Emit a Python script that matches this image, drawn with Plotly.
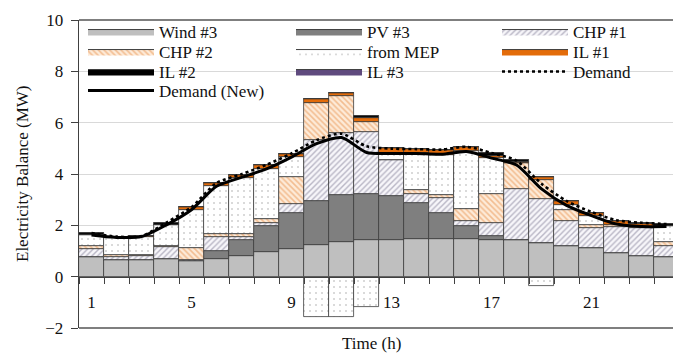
import plotly.graph_objects as go

hours = list(range(1, 25))
tick_hours = [1, 5, 9, 13, 17, 21]

wind = [0.78, 0.64, 0.65, 0.70, 0.60, 0.70, 0.82, 0.95, 1.08, 1.22, 1.34, 1.41,
        1.44, 1.47, 1.47, 1.47, 1.44, 1.42, 1.30, 1.21, 1.12, 0.91, 0.82, 0.78]
pv = [0, 0, 0, 0, 0, 0.30, 0.60, 1.02, 1.40, 1.71, 1.85, 1.82,
      1.71, 1.40, 1.03, 0.51, 0.13, 0, 0, 0, 0, 0, 0, 0]
chp1 = [0.30, 0.12, 0.15, 0.44, 0.04, 0.55, 0.13, 0.13, 0.36, 2.39, 2.40, 2.42,
        1.40, 0.36, 0.56, 0.20, 0.54, 1.99, 1.72, 0.97, 0.78, 1.04, 1.08, 0.40]
chp2 = [0.13, 0.10, 0.06, 0.05, 0.47, 0.13, 0.13, 0.14, 1.06, 1.43, 1.43, 0.39,
        0, 0.13, 0.13, 0.45, 1.12, 1.00, 0.74, 0.42, 0.12, 0.08, 0.05, 0.16]
mep = [0.40, 0.66, 0.70, 0.83, 1.50, 1.84, 2.18, 1.95, 0.76, -1.56, -1.56, -1.17,
       0.28, 1.45, 1.56, 2.25, 1.39, 0, -0.35, 0.20, 0.35, -0.05, -0.05, 0.62]
il1 = [0, 0.03, 0.02, 0, 0.10, 0.13, 0.12, 0.16, 0.13, 0.16, 0.13, 0.14,
       0.17, 0.16, 0.19, 0.18, 0.09, 0.07, 0.13, 0.16, 0.13, 0.12, 0.10, 0]
il2 = [0.09, 0, 0, 0.09, 0, 0, 0, 0, 0, 0, 0, 0.08,
       0, 0, 0, 0, 0.10, 0.06, 0, 0, 0, 0, 0.06, 0.10]
il3 = [0, 0, 0, 0, 0, 0, 0, 0, 0, 0, 0, 0,
       0, 0, 0, 0, 0, 0, 0, 0, 0, 0, 0, 0]
demand = [1.70, 1.56, 1.58, 2.11, 2.71, 3.65, 3.99, 4.36, 4.80, 5.32, 5.57, 5.08,
          4.99, 4.97, 4.95, 5.06, 4.82, 4.52, 3.62, 2.95, 2.52, 2.20, 2.10, 2.05]
demand_new = [1.62, 1.53, 1.56, 2.02, 2.61, 3.52, 3.87, 4.20, 4.66, 5.18, 5.42, 4.84,
              4.80, 4.80, 4.77, 4.88, 4.62, 4.35, 3.42, 2.78, 2.38, 2.05, 1.95, 1.95]

FONT = "Liberation Serif"
EDGE = "#3c3c3c"
TXT = "#111111"
NBSP = "\u00a0"

series = [
    ("Wind #3", wind, dict(color="#bfbfbf")),
    ("PV #3", pv, dict(color="#7f7f7f")),
    ("CHP #1", chp1, dict(color="#f7f6fa", pattern=dict(shape="/", fgcolor="#7a7590", bgcolor="#f7f6fa", size=4, solidity=0.35))),
    ("CHP #2", chp2, dict(color="#fde9d6", pattern=dict(shape="\\", fgcolor="#e8904a", bgcolor="#fdebd9", size=4, solidity=0.4))),
    ("from MEP", mep, dict(color="white", pattern=dict(shape=".", fgcolor="#444444", bgcolor="white", size=6, solidity=0.05))),
    ("IL #1", il1, dict(color="#e36c0a")),
    ("IL #2", il2, dict(color="#000000")),
    ("IL #3", il3, dict(color="#5f4a7e")),
]

fig = go.Figure()
for name, vals, mk in series:
    m = dict(mk)
    m["line"] = dict(color=EDGE, width=0.8)
    fig.add_trace(go.Bar(x=hours, y=vals, name=name, marker=m, width=1.0,
                         showlegend=False))

fig.add_trace(go.Scatter(x=hours, y=demand, mode="lines", name="Demand",
                         line=dict(color="black", width=2.6, dash="dot", shape="spline", smoothing=0.7),
                         showlegend=False))
fig.add_trace(go.Scatter(x=hours, y=demand_new, mode="lines", name="Demand (New)",
                         line=dict(color="black", width=3, shape="spline", smoothing=0.7),
                         showlegend=False))

# plot-area geometry in pixels
L, T, PW, PH = 79, 20, 594, 308
def px2paper(x, y):
    return (x - L) / PW, (T + PH - y) / PH

legend_items = [
    ("Wind #3", 83, 32), ("PV #3", 291, 32), ("CHP #1", 497, 32),
    ("CHP #2", 83, 52), ("from MEP", 291, 52), ("IL #1", 497, 52),
    ("IL #2", 83, 72), ("IL #3", 291, 72), ("Demand", 497, 72),
    ("Demand (New)", 83, 91),
]
style_of = {name: mk for name, _, mk in series}
legend_layouts = {}
for i, (name, px, py) in enumerate(legend_items):
    key = "legend" if i == 0 else "legend%d" % (i + 1)
    lx, ly = px2paper(px, py)
    legend_layouts[key] = dict(x=lx, y=ly, xanchor="left", yanchor="middle",
                               bgcolor="rgba(0,0,0,0)", borderwidth=0, itemwidth=66,
                               font=dict(family=FONT, size=17, color=TXT),
                               itemclick=False, itemdoubleclick=False)
    if name in style_of:
        mk = style_of[name]
        kw = dict(fill="toself", fillcolor=mk["color"], line=dict(color=EDGE, width=1))
        if "pattern" in mk:
            kw["fillpattern"] = mk["pattern"]
        fig.add_trace(go.Scatter(x=[None], y=[None], mode="lines", name=name,
                                 legend=key, showlegend=True, **kw))
    elif name == "Demand":
        fig.add_trace(go.Scatter(x=[None], y=[None], mode="lines", name=name, legend=key,
                                 line=dict(color="black", width=2.6, dash="dot")))
    else:
        fig.add_trace(go.Scatter(x=[None], y=[None], mode="lines", name=name, legend=key,
                                 line=dict(color="black", width=3)))

fig.update_layout(
    width=673, height=358,
    margin=dict(l=L, r=0, t=T, b=358 - T - PH),
    barmode="relative", bargap=0,
    plot_bgcolor="white", paper_bgcolor="white",
    font=dict(family=FONT, size=17, color=TXT),
    xaxis=dict(range=[0.5, 24.26], anchor="free", position=1/6,
               tickmode="array", tickvals=tick_hours, ticktext=[str(t) for t in tick_hours],
               ticks="", showgrid=False, zeroline=False,
               showline=True, linecolor="#404040", linewidth=1,
               ticklabelstandoff=10,
               tickfont=dict(family=FONT, size=17, color=TXT),
               minor=dict(tick0=0.5, dtick=1, ticks="outside", ticklen=6,
                          tickcolor="#404040", tickwidth=1, showgrid=False)),
    yaxis=dict(range=[-2, 10], dtick=2, ticks="outside", ticklen=7, tickcolor="#404040",
               showgrid=True, gridcolor="#d9d9d9", gridwidth=1, zeroline=False,
               showline=True, linecolor="#404040", linewidth=1,
               ticksuffix=NBSP, separatethousands=False,
               tickfont=dict(family=FONT, size=17, color=TXT)),
    annotations=[
        dict(text="Electricity Balance (MW)", textangle=-90, x=px2paper(22, 0)[0], y=0.5,
             xref="paper", yref="paper", showarrow=False, xanchor="center", yanchor="middle",
             font=dict(family=FONT, size=17, color=TXT)),
        dict(text="Time (h)", x=px2paper(371, 0)[0], y=px2paper(0, 343)[1],
             xref="paper", yref="paper", showarrow=False, xanchor="center", yanchor="middle",
             font=dict(family=FONT, size=17, color=TXT)),
    ],
    shapes=[
        dict(type="line", xref="paper", yref="paper", x0=0, x1=1, y0=1, y1=1,
             line=dict(color="#000000", width=1.2)),
        dict(type="line", xref="paper", yref="paper", x0=0, x1=1, y0=0, y1=0,
             line=dict(color="#000000", width=1.2)),
    ],
    **legend_layouts,
)

fig.write_html("out.html", config={"displayModeBar": False},
               post_script="document.body.style.margin='0';document.body.style.overflow='hidden';")
